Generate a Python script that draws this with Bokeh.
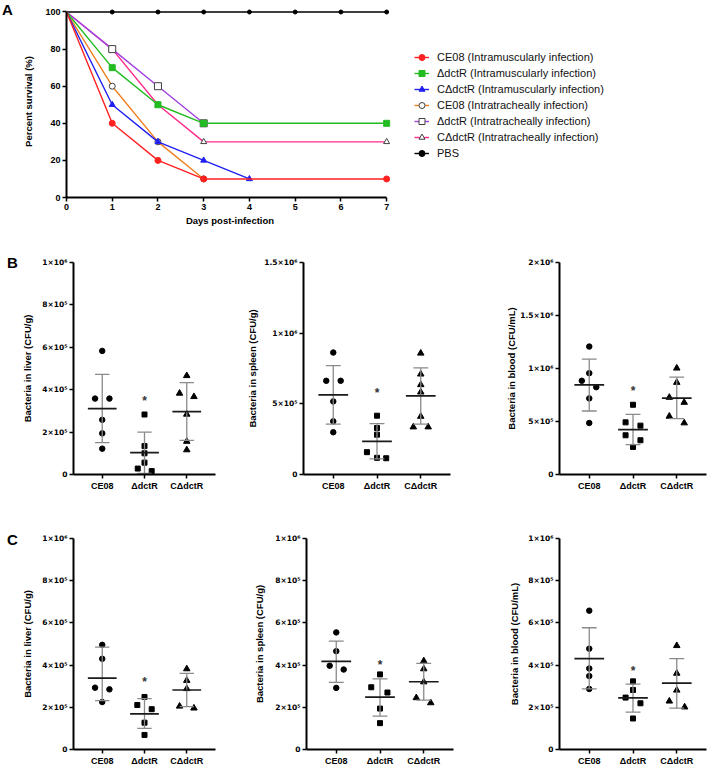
from bokeh.plotting import figure
from bokeh.models import Range1d, FixedTicker, Legend, LegendItem, Div
from bokeh.layouts import column, row
from bokeh.embed import file_html
from bokeh.resources import INLINE
from bokeh.core.properties import value

FONT = "Liberation Sans"
TICKFONT = "DejaVu Sans"

# ---------------- Panel A: survival ----------------
a_labels = ["CE08 (Intramuscularly infection)", "ΔdctR (Intramuscularly infection)",
            "CΔdctR (Intramuscularly infection)", "CE08 (Intratracheally infection)",
            "ΔdctR (Intratracheally infection)", "CΔdctR (Intratracheally infection)", "PBS"]
a_days = [[0, 1, 2, 3, 7], [0, 1, 2, 3, 7], [0, 1, 2, 3, 4], [0, 1, 2, 3],
          [0, 1, 2, 3], [0, 1, 2, 3, 7], [0, 1, 2, 3, 4, 5, 6, 7]]
a_survival = [[100, 40, 20, 10, 10], [100, 70, 50, 40, 40], [100, 50, 30, 20, 10],
              [100, 60, 30, 10], [100, 80, 60, 40], [100, 80, 50, 30, 30],
              [100, 100, 100, 100, 100, 100, 100, 100]]
a_xticks = [0, 1, 2, 3, 4, 5, 6, 7]
a_yticks = [0, 20, 40, 60, 80, 100]

# ---------------- Panels B / C: bacterial loads ----------------
groups = ["CE08", "ΔdctR", "CΔdctR"]

# B liver
bl_vals = [[5.83e5, 3.58e5, 3.58e5, 2.58e5, 1.94e5, 1.22e5],
           [2.83e5, 1.34e5, 1.00e5, 0.56e5, 0.28e5, 0.16e5],
           [4.66e5, 3.83e5, 3.67e5, 2.84e5, 1.56e5, 1.16e5]]
bl_jit = [[0, -0.17, 0.17, 0, 0, 0], [0, 0, 0, 0, -0.16, 0.17], [0, -0.17, 0.17, 0, 0, 0]]
bl_mean = [3.11e5, 1.03e5, 2.97e5]
bl_upper = [4.72e5, 2.00e5, 4.33e5]
bl_lower = [1.50e5, 0.05e5, 1.61e5]
bl_star = 3.61e5

# B spleen
bs_vals = [[8.63e5, 6.63e5, 6.63e5, 5.17e5, 3.76e5, 2.99e5],
           [4.16e5, 3.29e5, 2.82e5, 1.58e5, 1.18e5, 1.15e5],
           [8.58e5, 7.10e5, 6.35e5, 5.83e5, 4.11e5, 3.36e5, 3.36e5]]
bs_jit = [[0, -0.16, 0.17, 0, 0, 0], [0, 0, 0, -0.23, 0, 0.21], [0, 0, 0, 0, 0, -0.17, 0.17]]
bs_mean = [5.64e5, 2.35e5, 5.57e5]
bs_upper = [7.71e5, 3.60e5, 7.55e5]
bs_lower = [3.57e5, 1.10e5, 3.57e5]
bs_star = 6.0e5

# B blood
bb_vals = [[12.07e5, 9.56e5, 8.84e5, 8.24e5, 7.18e5, 4.86e5],
           [6.58e5, 4.92e5, 4.61e5, 3.70e5, 3.23e5, 2.60e5],
           [10.03e5, 8.68e5, 7.27e5, 6.80e5, 5.49e5, 4.86e5]]
bb_jit = [[0, 0, -0.17, 0.16, 0, 0], [0, -0.17, 0.17, -0.17, 0.17, 0], [0, 0, -0.17, 0.17, -0.17, 0.17]]
bb_mean = [8.46e5, 4.23e5, 7.21e5]
bb_upper = [10.88e5, 5.67e5, 9.18e5]
bb_lower = [5.99e5, 2.82e5, 5.27e5]
bb_star = 8.15e5

# C liver
cl_vals = [[4.96e5, 4.30e5, 2.93e5, 2.85e5, 2.25e5],
           [2.49e5, 2.11e5, 1.91e5, 1.27e5, 0.69e5],
           [3.82e5, 3.27e5, 2.88e5, 2.05e5, 1.96e5]]
cl_jit = [[0, 0, -0.17, 0.17, 0], [0, -0.17, 0.17, 0, 0], [0, 0, 0, -0.17, 0.17]]
cl_mean = [3.38e5, 1.69e5, 2.82e5]
cl_upper = [4.85e5, 2.41e5, 3.61e5]
cl_lower = [2.32e5, 1.00e5, 2.03e5]
cl_star = 3.32e5

# C spleen
cs_vals = [[5.55e5, 4.66e5, 3.97e5, 3.79e5, 2.92e5],
           [3.56e5, 2.95e5, 2.70e5, 1.94e5, 1.25e5],
           [4.20e5, 3.82e5, 3.20e5, 2.45e5, 2.21e5]]
cs_jit = [[0, 0, -0.15, 0.17, 0], [0, -0.2, 0.17, 0, 0], [0, 0, 0, -0.17, 0.16]]
cs_mean = [4.18e5, 2.48e5, 3.21e5]
cs_upper = [5.14e5, 3.35e5, 4.08e5]
cs_lower = [3.18e5, 1.58e5, 2.34e5]
cs_star = 4.15e5

# C blood
cb_vals = [[6.58e5, 4.78e5, 3.84e5, 3.48e5, 2.87e5],
           [3.23e5, 2.82e5, 2.46e5, 2.19e5, 1.47e5],
           [4.92e5, 3.61e5, 2.81e5, 2.29e5, 2.01e5]]
cb_jit = [[0, 0, 0, 0, 0], [0, 0, -0.17, 0.17, 0], [0, 0, 0, -0.17, 0.18]]
cb_mean = [4.31e5, 2.45e5, 3.15e5]
cb_upper = [5.77e5, 3.10e5, 4.31e5]
cb_lower = [2.87e5, 1.77e5, 1.96e5]
cb_star = 3.87e5

ticks_1e6 = [0, 2e5, 4e5, 6e5, 8e5, 1e6]
labels_1e6 = ["0", "2×10⁵", "4×10⁵", "6×10⁵", "8×10⁵", "1×10⁶"]
ticks_15e6 = [0, 5e5, 1e6, 1.5e6]
labels_15e6 = ["0", "5×10⁵", "1×10⁶", "1.5×10⁶"]
ticks_2e6 = [0, 5e5, 1e6, 1.5e6, 2e6]
labels_2e6 = ["0", "5×10⁵", "1×10⁶", "1.5×10⁶", "2×10⁶"]

# ---------------- styles ----------------
a_colors = ["#ff2020", "#22bb22", "#2020f0", "#f08020", "#a040e0", "#ff2a8c", "#000000"]
a_markers = ["circle", "square", "triangle", "circle", "square", "triangle", "circle"]
a_filled = [True, True, True, False, False, False, True]
a_msize = [6, 6, 6, 6, 7, 6, 4]
group_markers = ["circle", "square", "triangle"]
group_msize = [5.5, 5, 6.5]


def style_axes(p, tick_size="9px"):
    p.xgrid.visible = False
    p.ygrid.visible = False
    p.outline_line_color = None
    p.background_fill_color = "white"
    p.border_fill_color = "white"
    for ax in (p.xaxis[0], p.yaxis[0]):
        ax.axis_line_width = 2
        ax.axis_line_color = "black"
        ax.major_tick_line_width = 1.5
        ax.major_tick_out = 4
        ax.major_tick_in = 0
        ax.minor_tick_out = 0
        ax.minor_tick_in = 0
        ax.major_label_text_font = FONT
        ax.major_label_text_font_style = "bold"
        ax.major_label_text_font_size = tick_size
        ax.major_label_text_color = "black"
        ax.major_label_standoff = 2
        ax.axis_label_text_font = FONT
        ax.axis_label_text_font_style = "bold"
        ax.axis_label_text_font_size = "9.5px"
        ax.axis_label_text_color = "black"


def letter_div(letter, width, height, top):
    html = ('<div style="font-family: \'%s\'; font-weight: bold; font-size: 15px; '
            'line-height: 15px; margin-top: %dpx; margin-left: %dpx;">%s</div>'
            % (FONT, top, width - 12, letter))
    return Div(text=html, width=width, height=height, margin=0)


def marker_style(i, scale=1.0):
    size = a_msize[i] * scale
    if a_filled[i]:
        return dict(marker=a_markers[i], size=size, fill_color=a_colors[i], line_color=a_colors[i])
    return dict(marker=a_markers[i], size=size, fill_color="white", line_color="#404040", line_width=1)


# ---------------- Figure A ----------------
pa = figure(width=386, height=228, x_range=Range1d(0, 7.15), y_range=Range1d(0, 103.5),
            min_border_left=52, min_border_right=7, min_border_top=5, min_border_bottom=30,
            output_backend="svg", toolbar_location=None)
style_axes(pa, "9px")
pa.xaxis.ticker = FixedTicker(ticks=a_xticks)
pa.yaxis.ticker = FixedTicker(ticks=a_yticks)
pa.xaxis.bounds = (0, 7)
pa.yaxis.bounds = (0, 100)
pa.xaxis.axis_label = "Days post-infection"
pa.yaxis.axis_label = "Percent survival (%)"
pa.xaxis.axis_label_standoff = 2
pa.yaxis.axis_label_standoff = 8

for i in reversed(range(len(a_labels))):
    pa.line(a_days[i], a_survival[i], line_color=a_colors[i], line_width=1.4)
    pa.scatter(a_days[i][1:], a_survival[i][1:], **marker_style(i))

# legend figure (keys only; key renderers sit outside the visible range)
pl = figure(width=308, height=228, x_range=Range1d(0, 1), y_range=Range1d(0, 1),
            min_border_left=0, min_border_right=0, min_border_top=0, min_border_bottom=0,
            output_backend="svg", toolbar_location=None)
pl.axis.visible = False
pl.xgrid.visible = False
pl.ygrid.visible = False
pl.outline_line_color = None
items = []
for i in range(len(a_labels)):
    lr = pl.line([-5, -4], [-5, -4], line_color=a_colors[i], line_width=1.4)
    sr = pl.scatter([-5], [-5], **marker_style(i, 0.75))
    items.append(LegendItem(label=a_labels[i], renderers=[lr, sr]))
legend = Legend(items=items, location=(14, 36),
                label_text_font=FONT, label_text_font_size="11px", label_text_color="#111111",
                glyph_width=15, glyph_height=16, label_height=16, spacing=0, label_standoff=8,
                padding=4, margin=0, border_line_color=None, background_fill_alpha=0)
pl.add_layout(legend)


# ---------------- dot panels ----------------
def dot_panel(fig_w, bl, br, bt, bb, ymax, yticks, ylabels, ytitle, title_standoff,
              vals, jit, means, uppers, lowers, star_y):
    p = figure(width=fig_w, height=bt + 213 + bb, x_range=Range1d(-0.68, 2.68),
               y_range=Range1d(0, ymax), min_border_left=bl, min_border_right=br,
               min_border_top=bt, min_border_bottom=bb, output_backend="svg",
               toolbar_location=None)
    style_axes(p, "9px")
    p.xaxis.ticker = FixedTicker(ticks=[0, 1, 2])
    p.xaxis.major_label_overrides = {i: g for i, g in enumerate(groups)}
    p.yaxis.ticker = FixedTicker(ticks=yticks)
    p.yaxis.major_label_overrides = {t: l for t, l in zip(yticks, ylabels)}
    p.yaxis.major_label_text_font = TICKFONT
    p.yaxis.major_label_text_font_size = "7.5px"
    p.yaxis.axis_label = ytitle
    p.yaxis.axis_label_standoff = title_standoff
    p.yaxis.axis_label_text_font_size = "9.5px"
    for g in range(3):
        xs = [g + j for j in jit[g]]
        p.scatter(xs, vals[g], marker=group_markers[g], size=group_msize[g],
                  fill_color="black", line_color="black")
        # SD whiskers
        p.segment(x0=[g], x1=[g], y0=[lowers[g]], y1=[uppers[g]], line_color="#8a8a8a", line_width=1.3)
        p.segment(x0=[g - 0.17, g - 0.17], x1=[g + 0.17, g + 0.17],
                  y0=[lowers[g], uppers[g]], y1=[lowers[g], uppers[g]],
                  line_color="#8a8a8a", line_width=1.3)
        # mean
        p.segment(x0=[g - 0.34], x1=[g + 0.34], y0=[means[g]], y1=[means[g]],
                  line_color="#1a1a1a", line_width=1.7)
    p.text(x=[1], y=[star_y], text=["*"], text_font=value(FONT), text_font_style="bold",
           text_font_size="12px", text_align="center", text_baseline="middle",
           text_color="#333333", y_offset=3)
    return p


b1 = dot_panel(221, 49, 25, 34, 18, 1e6, ticks_1e6, labels_1e6, "Bacteria in liver (CFU/g)", 6,
               bl_vals, bl_jit, bl_mean, bl_upper, bl_lower, bl_star)
b2 = dot_panel(240, 63, 30, 34, 18, 1.5e6, ticks_15e6, labels_15e6, "Bacteria in spleen (CFU/g)", 3,
               bs_vals, bs_jit, bs_mean, bs_upper, bs_lower, bs_star)
b3 = dot_panel(228, 79, 2, 34, 18, 2e6, ticks_2e6, labels_2e6, "Bacteria in blood (CFU/mL)", 0,
               bb_vals, bb_jit, bb_mean, bb_upper, bb_lower, bb_star)
c1 = dot_panel(221, 49, 25, 45, 17, 1e6, ticks_1e6, labels_1e6, "Bacteria in liver (CFU/g)", 6,
               cl_vals, cl_jit, cl_mean, cl_upper, cl_lower, cl_star)
c2 = dot_panel(240, 66, 27, 45, 17, 1e6, ticks_1e6, labels_1e6, "Bacteria in spleen (CFU/g)", 7,
               cs_vals, cs_jit, cs_mean, cs_upper, cs_lower, cs_star)
c3 = dot_panel(228, 79, 2, 45, 17, 1e6, ticks_1e6, labels_1e6, "Bacteria in blood (CFU/mL)", 5,
               cb_vals, cb_jit, cb_mean, cb_upper, cb_lower, cb_star)

layout = column(row(letter_div("A", 14, 228, 2), pa, pl),
                row(letter_div("B", 19, 265, 27), b1, b2, b3),
                row(letter_div("C", 19, 275, 39), c1, c2, c3))
open("out.html", "w").write(file_html(layout, INLINE))
